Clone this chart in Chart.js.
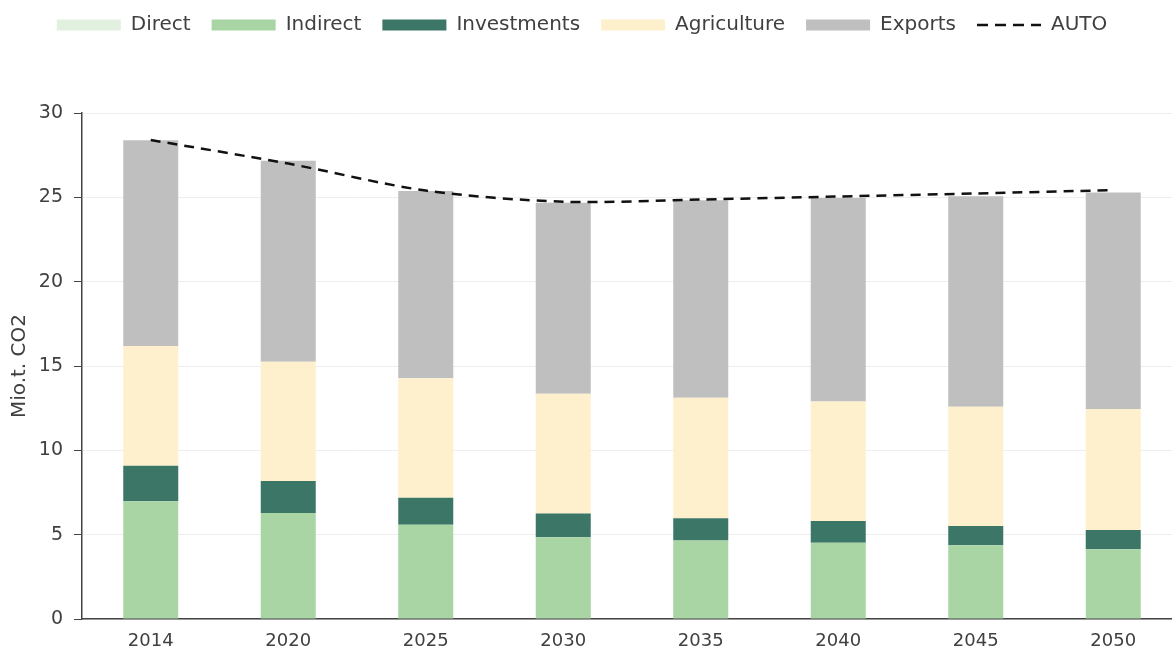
<!DOCTYPE html>
<html>
<head>
<meta charset="utf-8">
<script src="https://cdn.jsdelivr.net/npm/chart.js@4/dist/chart.umd.min.js"></script>
<style>
    body { margin: 0; overflow: hidden; background: #fff; }
    #wrap { width: 1172px; height: 655px; overflow: hidden; }
</style>
</head>
<body>
<div id="wrap"><canvas id="chart" width="1185" height="655"></canvas></div>
<script>
// Data (Mio.t. CO2)
const tahun = ['2014', '2020', '2025', '2030', '2035', '2040', '2045', '2050'];
const direct = [0, 0, 0, 0, 0, 0, 0, 0];
const indirect = [6.98, 6.28, 5.59, 4.84, 4.66, 4.52, 4.37, 4.13];
const investments = [2.11, 1.90, 1.60, 1.42, 1.31, 1.29, 1.14, 1.15];
const agriculture = [7.09, 7.07, 7.08, 7.10, 7.15, 7.09, 7.08, 7.17];
const exports = [12.21, 11.92, 11.10, 11.32, 11.70, 12.06, 12.48, 12.84];
const auto = [28.4, 27.0, 25.4, 24.74, 24.87, 25.05, 25.23, 25.43];
const yTicks = [0, 5, 10, 15, 20, 25, 30];

const FONT = '"DejaVu Sans"';
const textColor = '#404040';

function barSet(label, data, color) {
    return {
        type: 'bar',
        label: label,
        data: data,
        backgroundColor: color,
        borderWidth: 0,
        pointStyle: 'rect',
        barPercentage: 0.8,
        categoryPercentage: 0.5,
        order: 1
    };
}

// ikon garis putus-putus untuk legenda AUTO
function buatIkonDash() {
    const c = document.createElement('canvas');
    c.width = 64;
    c.height = 12;
    const g = c.getContext('2d');
    g.strokeStyle = '#111';
    g.lineWidth = 2.5;
    g.setLineDash([11, 7]);
    g.beginPath();
    g.moveTo(0, 6);
    g.lineTo(64, 6);
    g.stroke();
    return c;
}

// geser legenda & atur tinggi area atas
const layoutTweak = {
    id: 'layoutTweak',
    beforeInit(chart) {
        const fitAsli = chart.legend.fit;
        chart.legend.fit = function () {
            fitAsli.bind(chart.legend)();
            this.height = 106;
        };
    },
    afterLayout(chart) {
        chart.legend.left -= 9;
        chart.legend.right -= 9;
        chart.legend.top -= 13;
        chart.legend.bottom -= 13;
    }
};

new Chart(document.getElementById('chart').getContext('2d'), {
    data: {
        labels: tahun,
        datasets: [
            barSet('Direct', direct, '#e2f0df'),
            barSet('Indirect', indirect, '#a9d5a5'),
            barSet('Investments', investments, '#3c7667'),
            barSet('Agriculture', agriculture, '#fef0cd'),
            barSet('Exports', exports, '#bfbfbf'),
            {
                type: 'line',
                label: 'AUTO',
                data: auto,
                borderColor: '#111',
                backgroundColor: '#111',
                borderWidth: 2.5,
                borderDash: [10, 7],
                pointRadius: 0,
                pointStyle: buatIkonDash(),
                tension: 0.3,
                fill: false,
                order: 0
            }
        ]
    },
    options: {
        responsive: false,
        animation: false,
        layout: { padding: { top: 7, right: 3, left: 0, bottom: 0 } },
        plugins: {
            tooltip: { enabled: false },
            legend: {
                position: 'top',
                labels: {
                    usePointStyle: true,
                    pointStyleWidth: 64,
                    boxHeight: 11,
                    padding: 21,
                    color: textColor,
                    font: { family: FONT, size: 20 },
                    sort: (a, b) => a.datasetIndex - b.datasetIndex
                }
            }
        },
        scales: {
            x: {
                stacked: true,
                grid: { display: false, drawTicks: false },
                border: { display: true, color: '#444', width: 1.5 },
                ticks: {
                    color: textColor,
                    padding: 12,
                    font: { family: FONT, size: 18 }
                },
                afterFit(scale) { scale.height = 36; }
            },
            y: {
                stacked: true,
                min: 0,
                max: 30,
                afterBuildTicks(scale) {
                    scale.ticks = yTicks.map(v => ({ value: v }));
                },
                grid: {
                    color: '#eeeeee',
                    tickColor: '#444',
                    tickLength: 8,
                    lineWidth: 1
                },
                border: { display: true, color: '#444', width: 1.5 },
                ticks: {
                    color: textColor,
                    padding: 11,
                    font: { family: FONT, size: 19 }
                },
                title: {
                    display: true,
                    text: 'Mio.t. CO2',
                    color: textColor,
                    padding: { top: 8, bottom: 2 },
                    font: { family: FONT, size: 20 }
                },
                afterFit(scale) { scale.width = 82; }
            }
        }
    },
    plugins: [layoutTweak]
});
</script>
</body>
</html>
